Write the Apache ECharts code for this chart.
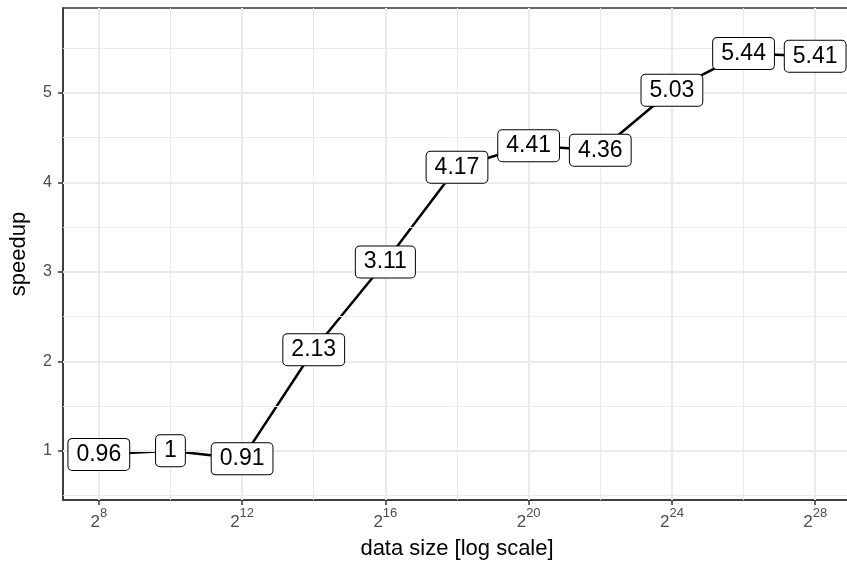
<!DOCTYPE html>
<html><head><meta charset="utf-8">
<script src="https://cdn.jsdelivr.net/npm/echarts@6/dist/echarts.min.js"></script>
<style>html,body{margin:0;padding:0;background:#fff}#c{width:847px;height:561px}</style>
</head><body><div id="c"></div>
<script>
// data size exponents (2^n) and measured speedup
const sizeExp = [8, 10, 12, 14, 16, 18, 20, 22, 24, 26, 28];
const speedup = [0.96, 1, 0.91, 2.13, 3.11, 4.17, 4.41, 4.36, 5.03, 5.44, 5.41];
// axis ticks
const xTickExp = [8, 12, 16, 20, 24, 28];
const xMinorExp = [10, 14, 18, 22, 26];
const yTicks = [1, 2, 3, 4, 5];
const yMinor = [0.5, 1.5, 2.5, 3.5, 4.5, 5.5];

const FONT = "'Liberation Sans', Arial, Helvetica, sans-serif";
const GRID = '#EBEBEB';

const gridLines = [];
xMinorExp.forEach(v => gridLines.push({xAxis: v, lineStyle: {color: GRID, width: 1, type: 'solid'}}));
yMinor.forEach(v => gridLines.push({yAxis: v, lineStyle: {color: GRID, width: 1, type: 'solid'}}));
xTickExp.forEach(v => gridLines.push({xAxis: v, lineStyle: {color: GRID, width: 2, type: 'solid'}}));
yTicks.forEach(v => gridLines.push({yAxis: v, lineStyle: {color: GRID, width: 2, type: 'solid'}}));

const points = sizeExp.map((e, i) => [e, speedup[i]]);

const chart = echarts.init(document.getElementById('c'), null, {renderer: 'canvas'});
chart.setOption({
  animation: false,
  backgroundColor: '#fff',
  textStyle: {fontFamily: FONT},
  grid: {left: 63, right: -4, top: 8, bottom: 61, show: true, borderColor: '#333', borderWidth: 1.5,
         backgroundColor: 'transparent', containLabel: false, outerBoundsMode: 'none'},
  xAxis: {
    type: 'value', min: 7, max: 29,
    name: 'data size [log scale]', nameLocation: 'middle', nameGap: 38,
    nameTextStyle: {fontSize: 22, color: '#000', fontFamily: FONT},
    axisLine: {show: true, onZero: false, lineStyle: {color: '#333', width: 1.5}},
    axisTick: {show: true, length: 5, lineStyle: {color: '#333', width: 1.5}, customValues: xTickExp},
    splitLine: {show: false},
    axisLabel: {
      customValues: xTickExp, margin: 7, color: '#4D4D4D',
      formatter: v => '{b|2}{s|' + v + '}',
      rich: {
        b: {fontSize: 17, color: '#4D4D4D', fontFamily: FONT, lineHeight: 24, verticalAlign: 'bottom'},
        s: {fontSize: 13, color: '#4D4D4D', fontFamily: FONT, lineHeight: 24, verticalAlign: 'top'}
      }
    }
  },
  yAxis: {
    type: 'value', min: 0.45, max: 5.95,
    name: 'speedup', nameLocation: 'middle', nameGap: 33, nameRotate: 90,
    nameTextStyle: {fontSize: 22, color: '#000', fontFamily: FONT},
    axisLine: {show: true, onZero: false, lineStyle: {color: '#333', width: 1.5}},
    axisTick: {show: true, length: 5, lineStyle: {color: '#333', width: 1.5}, customValues: yTicks},
    splitLine: {show: false},
    axisLabel: {customValues: yTicks, margin: 11, fontSize: 16, color: '#4D4D4D', fontFamily: FONT}
  },
  series: [
    {
      type: 'line', data: [], z: -1, silent: true,
      markLine: {silent: true, symbol: ['none', 'none'], label: {show: false}, animation: false, data: gridLines}
    },
    {
      type: 'line', data: points, z: 2,
      lineStyle: {color: '#000', width: 2.5},
      symbol: 'none', silent: true
    },
    {
      type: 'scatter', data: points, z: 5,
      symbolSize: 0, itemStyle: {color: '#000', opacity: 1},
      label: {
        show: true, position: 'inside', fontSize: 23, color: '#000', fontFamily: FONT,
        backgroundColor: '#fff', borderColor: '#000', borderWidth: 1, borderRadius: 4,
        padding: [4, 8], lineHeight: 23,
        formatter: p => String(p.value[1])
      }
    }
  ]
});
</script></body></html>
